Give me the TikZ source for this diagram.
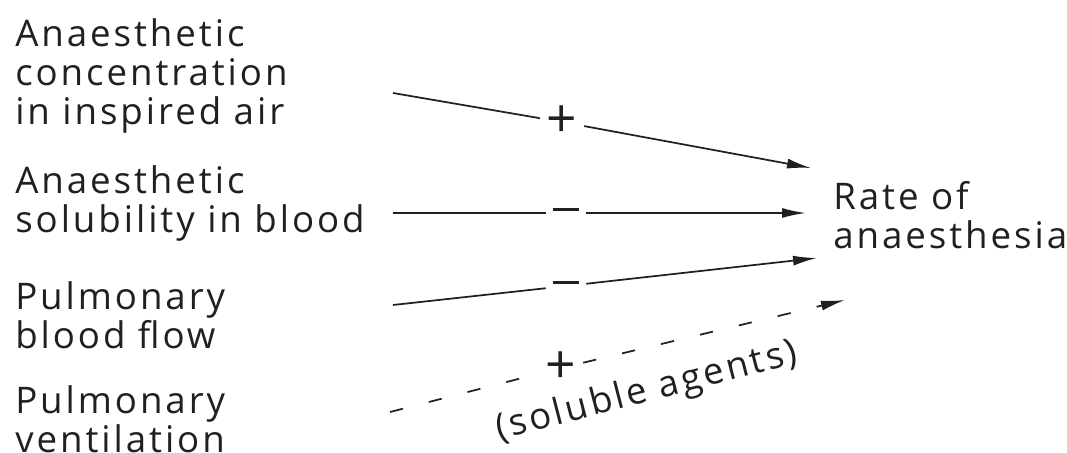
\documentclass[tikz,border=0pt]{standalone}
\usepackage{fontspec}
\setmainfont{Open Sans}[LetterSpace=8]
\definecolor{inkblack}{RGB}{35,31,32}
\usepackage{tikz}
\usetikzlibrary{arrows.meta,positioning}

\tikzset{
  factor/.style={anchor=north west,inner sep=0pt,align=left,text=inkblack,
                 font=\fontsize{27.5}{29.5}\selectfont},
  sign/.style={inner sep=5pt,text=inkblack,font=\fontsize{40}{40}\selectfont},
  effect/.style={draw=inkblack,line width=1.3pt},
  effectarrow/.style={effect,-{Latex[length=18pt,width=7.5pt]}}
}

\begin{document}
\begin{tikzpicture}[x=0.75pt,y=-0.75pt]
      \useasboundingbox (0,0) rectangle (1067,453);
      % causes
      \node[factor] (conc) at (15,18) {Anaesthetic\\concentration\\in inspired air};
      \node[factor] (solub) at (15,165) {Anaesthetic\\solubility in blood};
      \node[factor] (flow) at (15,281) {Pulmonary\\blood flow};
      \node[factor] (vent) at (15,385) {Pulmonary\\ventilation};
      % result
      \node[factor] (rate) at (833,181) {Rate of\\anaesthesia};

      \coordinate (s1) at (393,93);
      \coordinate (s2) at (393,213);
      \coordinate (s3) at (393,305);
      \coordinate (s4) at (390,412);
      \coordinate (t1) at (811,168);
      \coordinate (t2) at (806,213);
      \coordinate (t3) at (817,258);
      \coordinate (t4) at (845,300);

      \node[sign] (p1) at (562,122) {+};
      \node[sign] (m2) at (566,213) {\rule[0.25ex]{20pt}{2.4pt}};
      \node[sign] (m3) at (566,286) {\rule[0.25ex]{20pt}{2.4pt}};
      \node[sign] (p4) at (561,368) {+};
      \node[text=inkblack,inner sep=0pt,font=\fontsize{27.5}{29.5}\selectfont,rotate=14.5]
        (sol) at (647,392) {(soluble agents)};

      \draw[effect] (s1) -- (p1);
      \draw[effectarrow] (p1) -- (t1);
      \draw[effect] (s2) -- (m2);
      \draw[effectarrow] (m2) -- (t2);
      \draw[effect] (s3) -- (m3);
      \draw[effectarrow] (m3) -- (t3);
      \draw[effect,dash pattern=on 10pt off 20pt] (s4) -- (p4);
      \draw[effectarrow,dash pattern=on 10pt off 20pt] (p4) -- (t4);
    \end{tikzpicture}
\end{document}
